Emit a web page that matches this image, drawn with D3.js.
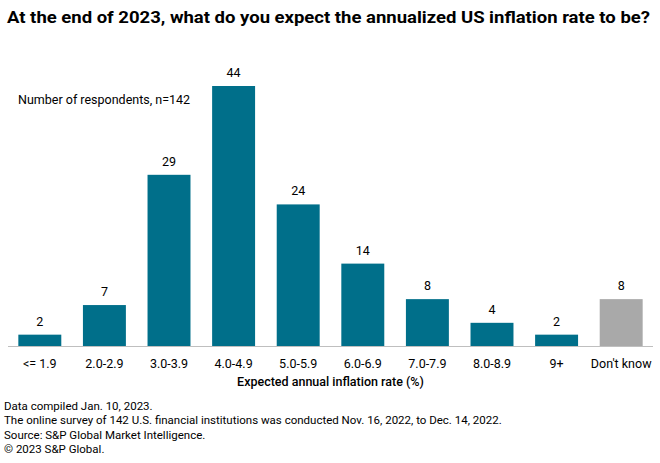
<!DOCTYPE html>
<html>
<head>
<meta charset="utf-8">
<script src="https://cdn.jsdelivr.net/npm/d3@7"></script>
<style>
	body { margin: 0; background: #fff; }
	text { font-family: "Roboto", "Liberation Sans", sans-serif; fill: #000; }
</style>
</head>
<body>
<svg id="chart"></svg>
<script>
// survey answers, n=142
var categories = ["<= 1.9", "2.0-2.9", "3.0-3.9", "4.0-4.9", "5.0-5.9", "6.0-6.9", "7.0-7.9", "8.0-8.9", "9+", "Don't know"];
var respondents = [2, 7, 29, 44, 24, 14, 8, 4, 2, 8];
var footnotes = [
	"Data compiled Jan. 10, 2023.",
	"The online survey of 142 U.S. financial institutions was conducted Nov. 16, 2022, to Dec. 14, 2022.",
	"Source: S&P Global Market Intelligence.",
	"\u00a9 2023 S&P Global."
];

var width = 660, height = 463;
var svg = d3.select("#chart").attr("width", width).attr("height", height);

var x = d3.scaleBand()
	.domain(categories)
	.range([8, 653])
	.paddingInner(0.335)
	.paddingOuter(0.16);

var y = d3.scaleLinear()
	.domain([0, 44])
	.range([346.5, 86]);

svg.append("text")
	.attr("x", 7).attr("y", 23)
	.style("font-size", "16.5px").style("font-weight", "bold")
	.attr("textLength", 643).attr("lengthAdjust", "spacingAndGlyphs")
	.text("At the end of 2023, what do you expect the annualized US inflation rate to be?");

svg.append("text")
	.attr("x", 18).attr("y", 104)
	.style("font-size", "12.5px")
	.text("Number of respondents, n=142");

var data = categories.map(function(c, i) { return { cat: c, val: respondents[i] }; });

svg.selectAll(".bar")
	.data(data)
	.enter().append("rect")
	.attr("class", "bar")
	.attr("x", function(d) { return x(d.cat); })
	.attr("y", function(d) { return y(d.val); })
	.attr("width", x.bandwidth())
	.attr("height", function(d) { return y(0) - y(d.val); })
	.style("fill", function(d) { return d.cat == "Don't know" ? "#a9a9a9" : "#006f8a"; });

svg.selectAll(".val")
	.data(data)
	.enter().append("text")
	.attr("class", "val")
	.attr("x", function(d) { return x(d.cat) + x.bandwidth() / 2; })
	.attr("y", function(d) { return y(d.val) - 9; })
	.attr("text-anchor", "middle")
	.style("font-size", "12.5px")
	.text(function(d) { return d.val; });

// axis with baseline only
var axis = svg.append("g")
	.attr("transform", "translate(0," + y(0) + ")")
	.call(d3.axisBottom(x).tickSize(0).tickPadding(13));
axis.select(".domain").attr("stroke", "#bfbfbf").attr("d", "M8,0H653");
axis.selectAll(".tick text")
	.style("font-size", "12.5px")
	.style("font-family", "Roboto, sans-serif")
	.attr("fill", "#000");

svg.append("text")
	.attr("x", (8 + 653) / 2).attr("y", 386)
	.attr("text-anchor", "middle")
	.style("font-size", "12.5px").style("font-weight", "500")
	.text("Expected annual inflation rate (%)");

svg.selectAll(".foot")
	.data(footnotes)
	.enter().append("text")
	.attr("class", "foot")
	.attr("x", 4)
	.attr("y", function(d, i) { return 410 + i * 14.3; })
	.style("font-size", "11.5px")
	.text(function(d) { return d; });
</script>
</body>
</html>
